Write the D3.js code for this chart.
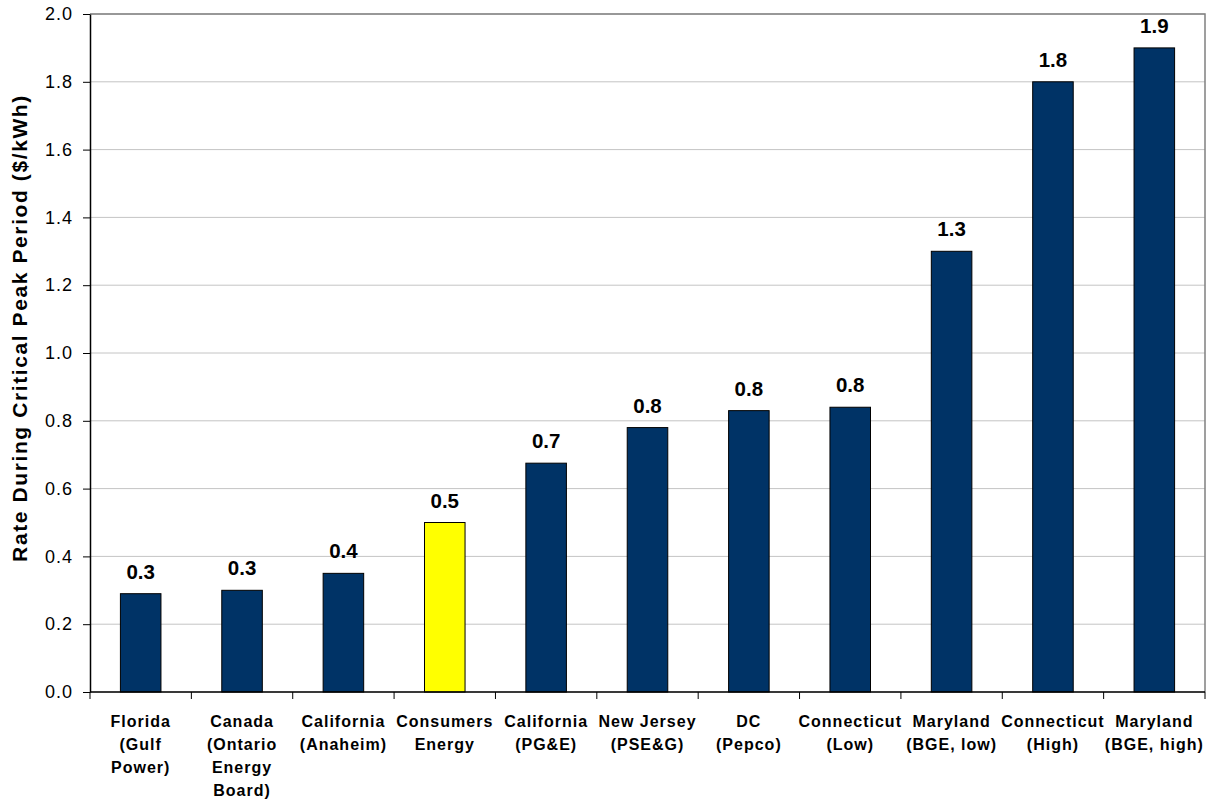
<!DOCTYPE html>
<html>
<head>
<meta charset="utf-8">
<script src="https://cdn.jsdelivr.net/npm/d3@7"></script>
<style>
  body { margin: 0; background: #fff; }
  text { font-family: "Liberation Sans", Arial, sans-serif; }
</style>
</head>
<body>
<script>
"use strict";

const categories = [
  ["Florida", "(Gulf", "Power)"],
  ["Canada", "(Ontario", "Energy", "Board)"],
  ["California", "(Anaheim)"],
  ["Consumers", "Energy"],
  ["California", "(PG&E)"],
  ["New Jersey", "(PSE&G)"],
  ["DC", "(Pepco)"],
  ["Connecticut", "(Low)"],
  ["Maryland", "(BGE, low)"],
  ["Connecticut", "(High)"],
  ["Maryland", "(BGE, high)"]
];
const values = [0.29, 0.30, 0.35, 0.50, 0.675, 0.78, 0.83, 0.84, 1.30, 1.80, 1.90];
const valueLabels = ["0.3", "0.3", "0.4", "0.5", "0.7", "0.8", "0.8", "0.8", "1.3", "1.8", "1.9"];
const highlight = 3;
const yTicks = [0, 0.2, 0.4, 0.6, 0.8, 1.0, 1.2, 1.4, 1.6, 1.8, 2.0];
const yTitle = "Rate During Critical Peak Period ($/kWh)";

const width = 1217, height = 801;
const margin = { top: 14, right: 12, bottom: 109, left: 90 };

let svg = d3
  .select("body")
  .append("svg")
  .attr("width", width)
  .attr("height", height);

const x = d3
  .scaleBand()
  .domain(d3.range(values.length))
  .range([margin.left, width - margin.right])
  .paddingInner(0.6)
  .paddingOuter(0.3);

const y = d3
  .scaleLinear()
  .domain([0, 2])
  .range([height - margin.bottom, margin.top]);

// gridlines
svg.append("g")
  .selectAll("line")
  .data(yTicks)
  .enter()
  .append("line")
  .attr("x1", margin.left)
  .attr("x2", width - margin.right)
  .attr("y1", d => y(d))
  .attr("y2", d => y(d))
  .attr("stroke", "#c4c4c4")
  .attr("stroke-width", 1);

// plot border (top + right)
svg.append("path")
  .attr("d", `M${margin.left},${y(2)}H${width - margin.right}V${y(0)}`)
  .attr("fill", "none")
  .attr("stroke", "#808080")
  .attr("stroke-width", 1.5);

// bars
svg.append("g")
  .selectAll("rect")
  .data(values)
  .enter()
  .append("rect")
  .attr("x", (d, i) => x(i))
  .attr("y", d => y(d))
  .attr("width", x.bandwidth())
  .attr("height", d => y(0) - y(d))
  .attr("fill", (d, i) => (i === highlight ? "#ffff00" : "#003366"))
  .attr("stroke", "#000")
  .attr("stroke-width", 1);

// value labels
svg.append("g")
  .selectAll("text")
  .data(values)
  .enter()
  .append("text")
  .attr("x", (d, i) => x(i) + x.bandwidth() / 2)
  .attr("y", d => y(d) - 15)
  .attr("text-anchor", "middle")
  .attr("font-size", 20.5)
  .attr("font-weight", "bold")
  .text((d, i) => valueLabels[i]);

// y axis
const yAxis = svg.append("g")
  .attr("transform", `translate(${margin.left},0)`)
  .call(d3.axisLeft(y).tickValues(yTicks).tickFormat(d3.format(".1f")).tickSize(7).tickSizeOuter(0));
yAxis.select(".domain").attr("stroke", "#000").attr("stroke-width", 1.5);
yAxis.selectAll(".tick line").attr("stroke", "#000");
yAxis.selectAll(".tick text")
  .attr("font-size", 18)
  .attr("letter-spacing", 1)
  .attr("font-family", "Liberation Sans, Arial, sans-serif")
  .attr("fill", "#000")
  .attr("x", -17);

// x axis with category boundary ticks
const xStart = margin.left;
const xEnd = width - margin.right;
const baseY = y(0);
svg.append("line")
  .attr("x1", xStart)
  .attr("x2", xEnd)
  .attr("y1", baseY)
  .attr("y2", baseY)
  .attr("stroke", "#000")
  .attr("stroke-width", 1.5);
svg.append("g")
  .selectAll("line")
  .data(d3.range(values.length + 1))
  .enter()
  .append("line")
  .attr("x1", i => xStart + i * (xEnd - xStart) / values.length)
  .attr("x2", i => xStart + i * (xEnd - xStart) / values.length)
  .attr("y1", baseY)
  .attr("y2", baseY + 7)
  .attr("stroke", "#000");

// category labels
const catG = svg.append("g")
  .selectAll("text")
  .data(categories)
  .enter()
  .append("text")
  .attr("text-anchor", "middle")
  .attr("font-size", 16)
  .attr("font-weight", "bold")
  .attr("letter-spacing", 1)
  .attr("transform", (d, i) => `translate(${x(i) + x.bandwidth() / 2},${baseY + 35})`);
catG.selectAll("tspan")
  .data(d => d)
  .enter()
  .append("tspan")
  .attr("x", 0)
  .attr("dy", (d, i) => (i === 0 ? 0 : 23))
  .text(d => d);

// y title
svg.append("text")
  .attr("transform", `translate(27,328) rotate(-90)`)
  .attr("text-anchor", "middle")
  .attr("font-size", 21)
  .attr("font-weight", "bold")
  .attr("letter-spacing", 1.6)
  .text(yTitle);
</script>
</body>
</html>
